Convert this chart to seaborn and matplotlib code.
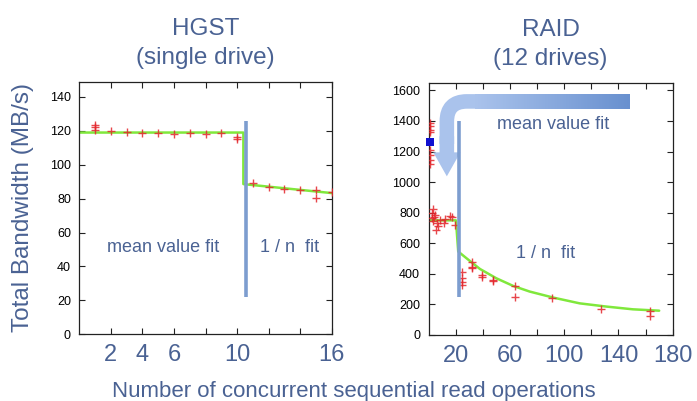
import numpy as np
import matplotlib.pyplot as plt
import seaborn as sns
from matplotlib.patches import FancyArrowPatch
from matplotlib.colors import LinearSegmentedColormap

sns.set_style("ticks")
plt.rcParams['font.family'] = ['Liberation Sans', 'DejaVu Sans']

# HGST single drive: measured points and the two fits
hgst_n = [1, 1, 1, 2, 3, 4, 5, 6, 7, 8, 9, 10, 10, 11, 12, 13, 14, 15, 15, 16]
hgst_bw = [123.5, 122.5, 120.5, 120, 119.6, 119, 118.6, 118.4, 118.6, 118, 118.6,
           116.5, 115, 89, 87, 85.7, 85.3, 85, 80.4, 84]
hgst_fit_n = [0, 10.4, 10.4, 16]
hgst_fit_bw = [119, 119, 88.6, 83.3]
hgst_split_n = 10.55
hgst_split_bw = [22, 126]

# RAID 12 drives
raid_n = [1, 1, 1, 1, 1, 1, 1, 1,
          2.4, 2.8, 3.5, 4.8, 3.0, 6.0, 5.5, 8.5, 12, 11.6, 15.8, 17, 19.5, 4, 7,
          24.4, 24.4, 24.4, 24.4, 31.7, 31.7, 31.7, 39.6, 39.6, 47.7, 47.7,
          63.6, 63.6, 91.3, 127.3, 163.4, 163.4]
raid_bw = [1388, 1366, 1344, 1327, 1213, 1180, 1148, 1121,
           765, 798, 824, 787, 743, 732, 689, 754, 759, 732, 776, 770, 721, 770, 715,
           410, 375, 345, 328, 478, 448, 435, 393, 382, 360, 352,
           323, 251, 245, 168, 160, 127]
raid_mean_n = [1]
raid_mean_bw = [1261]
raid_fit_n = [0, 20.2, 21.9, 28, 37.9, 50, 62.4, 74.6, 91.8, 111.4, 131, 150.6, 170]
raid_fit_bw = [750, 750, 546, 502, 432, 371, 321, 284, 245, 207, 186, 168, 159]
raid_split_n = 22.4
raid_split_bw = [251, 1399]

text_blue = '#4a6293'
red = '#e3262b'
green = '#80e83c'
line_blue = '#7d9dcf'
arrow_light = '#aac3ec'
arrow_dark = '#6890cf'

fig = plt.figure(figsize=(6.97, 4.01), dpi=100)
ax1 = fig.add_axes([0.1138, 0.1663, 0.3621, 0.630])
ax2 = fig.add_axes([0.6148, 0.1646, 0.3504, 0.629])

# left panel
sns.lineplot(x=hgst_fit_n, y=hgst_fit_bw, sort=False, estimator=None,
             color=green, lw=1.8, ax=ax1, zorder=2)
sns.scatterplot(x=hgst_n, y=hgst_bw, marker='+', color=red, s=36,
                linewidth=1.0, alpha=0.85, ax=ax1, zorder=3)
ax1.vlines(hgst_split_n, hgst_split_bw[0], hgst_split_bw[1], color=line_blue,
           lw=2.6, zorder=4)
ax1.text(5.3, 51, 'mean value fit', color=text_blue, fontsize=13,
         ha='center', va='center')
ax1.text(13.3, 51, '1 / n  fit', color=text_blue, fontsize=13,
         ha='center', va='center')
ax1.set_xlim(0, 16)
ax1.set_ylim(0, 149)
ax1.set_xticks([2, 4, 6, 8, 10, 12, 14, 16])
ax1.set_xticklabels(['2', '4', '6', '', '10', '', '', '16'])
ax1.set_yticks(range(0, 141, 20))
ax1.set_title('HGST\n(single drive)', fontsize=17.5, color=text_blue, pad=13,
              linespacing=1.4)

# right panel: bent arrow (body + head), horizontal part shaded
arrow_y, arrow_x0, arrow_x1, arrow_tip = 1528, 148, 13.5, 1038
body_lw = 10.5
body = FancyArrowPatch((arrow_x0, arrow_y), (arrow_x1, 1250),
                       connectionstyle='angle,angleA=0,angleB=90,rad=20',
                       arrowstyle='-', lw=body_lw, color=arrow_light,
                       capstyle='butt', shrinkA=0, shrinkB=0, zorder=1)
ax2.add_patch(body)
head = FancyArrowPatch((arrow_x1, 1300), (arrow_x1, arrow_tip),
                       arrowstyle='simple,head_length=1.15,head_width=1.3,tail_width=0.7',
                       mutation_scale=15, shrinkA=0, shrinkB=0,
                       facecolor=arrow_light, edgecolor='none', zorder=1)
ax2.add_patch(head)
ax_h_px = 0.629 * 4.01 * 100
half = body_lw * 100 / 72 / 2 / (ax_h_px / 1650)
grad = np.linspace(0, 1, 256).reshape(1, -1)
cmap = LinearSegmentedColormap.from_list('arr', [arrow_light, arrow_dark])
ax2.imshow(grad, extent=[34, arrow_x0, arrow_y - half, arrow_y + half],
           aspect='auto', cmap=cmap, zorder=1.2, interpolation='bilinear')

sns.lineplot(x=raid_fit_n, y=raid_fit_bw, sort=False, estimator=None,
             color=green, lw=1.8, ax=ax2, zorder=2)
sns.scatterplot(x=raid_n, y=raid_bw, marker='+', color=red, s=36,
                linewidth=1.0, alpha=0.85, ax=ax2, zorder=3)
sns.scatterplot(x=raid_mean_n, y=raid_mean_bw, marker='s', color='#1010d0',
                s=30, linewidth=0, ax=ax2, zorder=5, clip_on=False)
ax2.vlines(raid_split_n, raid_split_bw[0], raid_split_bw[1], color=line_blue,
           lw=2.6, zorder=4)
ax2.text(92, 1377, 'mean value fit', color=text_blue, fontsize=13,
         ha='center', va='center')
ax2.text(86, 536, '1 / n  fit', color=text_blue, fontsize=13,
         ha='center', va='center')
ax2.set_xlim(0, 180)
ax2.set_ylim(0, 1650)
ax2.set_xticks(range(20, 181, 20))
ax2.set_xticklabels(['20', '', '60', '', '100', '', '140', '', '180'])
ax2.set_yticks(range(0, 1601, 200))
ax2.set_title('RAID\n(12 drives)', fontsize=17.5, color=text_blue, pad=13,
              linespacing=1.4)

for ax in (ax1, ax2):
    ax.tick_params(direction='in', top=True, right=True, length=4, width=0.8,
                   color='#222222')
    ax.tick_params(axis='x', labelsize=17, labelcolor=text_blue, pad=7)
    ax.tick_params(axis='y', labelsize=9, labelcolor='black', pad=6)
    for s in ax.spines.values():
        s.set_color('#222222')
        s.set_linewidth(0.9)

fig.text(0.033, 0.4825, 'Total Bandwidth (MB/s)', rotation=90, fontsize=17.5,
         color=text_blue, ha='center', va='center')
fig.text(0.508, 0.009, 'Number of concurrent sequential read operations',
         fontsize=16, color=text_blue, ha='center', va='baseline')

fig.savefig('out.png', dpi=100)
